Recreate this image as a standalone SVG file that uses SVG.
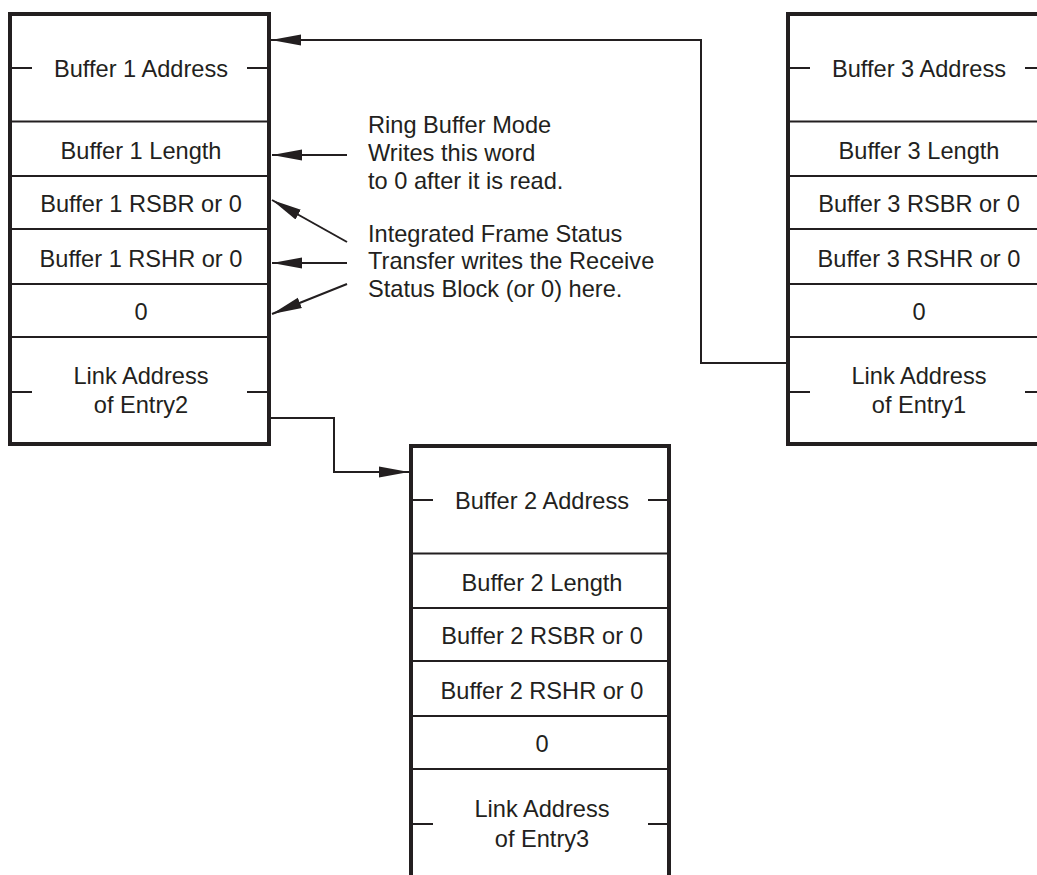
<svg xmlns="http://www.w3.org/2000/svg" xmlns:xlink="http://www.w3.org/1999/xlink" width="1037" height="875" viewBox="0 0 1037 875">
<style>
text{font-family:"Liberation Sans",Arial,Helvetica,sans-serif;font-size:23.6px;fill:#231f20}
.c{text-anchor:middle}
.frame{fill:none;stroke:#231f20;stroke-width:4}
.thin{fill:none;stroke:#231f20;stroke-width:2}
.conn{fill:none;stroke:#231f20;stroke-width:2}
</style>
<defs>
<marker id="ah" markerUnits="userSpaceOnUse" markerWidth="30" markerHeight="12" viewBox="0 0 30 12" refX="30" refY="6" orient="auto">
<path d="M0,0.5 L30,6 L0,11.5 Z" fill="#231f20"/>
</marker>
<g id="rows">
<path class="thin" d="M2,107.5 H257 M2,162 H257 M2,215 H257 M2,270 H257 M2,323 H257 M2,54 H22 M237,54 H257 M2,378 H22 M237,378 H257"/>
</g>
</defs>
<g id="connectors">
<path class="conn" d="M271,418 H334 V472 H409" marker-end="url(#ah)"/>
<path class="conn" d="M788,363 H701 V40 H271" marker-end="url(#ah)"/>
<path class="conn" d="M347,155 L272,155" marker-end="url(#ah)"/>
<path class="conn" d="M347,242 L272,200" marker-end="url(#ah)"/>
<path class="conn" d="M347,263 L272,263" marker-end="url(#ah)"/>
<path class="conn" d="M347,284 L272,314" marker-end="url(#ah)"/>
</g>
<g id="entry1" transform="translate(10,14)">
<rect class="frame" x="0" y="0" width="259" height="430"/>
<use xlink:href="#rows"/>
<text class="c" x="131" y="63">Buffer 1 Address</text>
<text class="c" x="131" y="145">Buffer 1 Length</text>
<text class="c" x="131" y="198">Buffer 1 RSBR or 0</text>
<text class="c" x="131" y="253">Buffer 1 RSHR or 0</text>
<text class="c" x="131" y="306">0</text>
<text class="c" x="131" y="370">Link Address</text>
<text class="c" x="131" y="399">of Entry2</text>
</g>
<g id="entry3" transform="translate(788,14)">
<rect class="frame" x="0" y="0" width="259" height="430"/>
<use xlink:href="#rows"/>
<text class="c" x="131" y="63">Buffer 3 Address</text>
<text class="c" x="131" y="145">Buffer 3 Length</text>
<text class="c" x="131" y="198">Buffer 3 RSBR or 0</text>
<text class="c" x="131" y="253">Buffer 3 RSHR or 0</text>
<text class="c" x="131" y="306">0</text>
<text class="c" x="131" y="370">Link Address</text>
<text class="c" x="131" y="399">of Entry1</text>
</g>
<g id="entry2" transform="translate(411,446)">
<rect class="frame" x="0" y="0" width="258" height="440"/>
<use xlink:href="#rows"/>
<text class="c" x="131" y="63">Buffer 2 Address</text>
<text class="c" x="131" y="145">Buffer 2 Length</text>
<text class="c" x="131" y="198">Buffer 2 RSBR or 0</text>
<text class="c" x="131" y="253">Buffer 2 RSHR or 0</text>
<text class="c" x="131" y="306">0</text>
<text class="c" x="131" y="371">Link Address</text>
<text class="c" x="131" y="401">of Entry3</text>
</g>
<g id="note-ring">
<text x="368" y="133">Ring Buffer Mode</text>
<text x="368" y="161">Writes this word</text>
<text x="368" y="189">to 0 after it is read.</text>
</g>
<g id="note-status">
<text x="368" y="242">Integrated Frame Status</text>
<text x="368" y="269">Transfer writes the Receive</text>
<text x="368" y="297">Status Block (or 0) here.</text>
</g>
</svg>
